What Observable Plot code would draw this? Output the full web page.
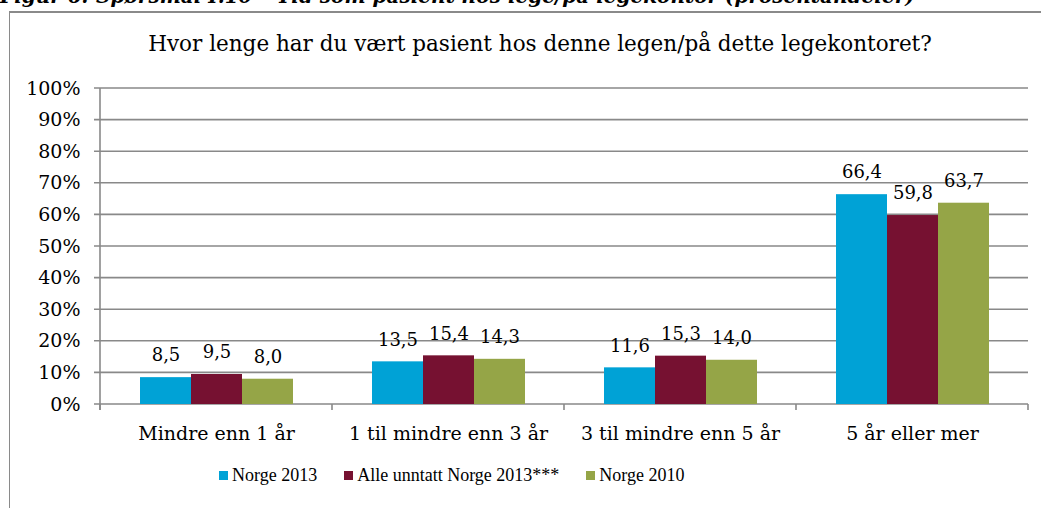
<!DOCTYPE html>
<html><head><meta charset="utf-8">
<script src="https://cdn.jsdelivr.net/npm/d3@7"></script>
<script src="https://cdn.jsdelivr.net/npm/@observablehq/plot@0.6"></script>
<style>
body{margin:0;background:#fff;}
#wrap{position:relative;width:1041px;height:508px;overflow:hidden;font-family:"DejaVu Serif",serif;color:#000;}
#cap{position:absolute;left:0;top:-16px;font:bold italic 20px "DejaVu Serif",serif;white-space:nowrap;}
#frame{position:absolute;left:9px;top:11px;width:1040px;height:600px;border-left:1.5px solid #8a8a8a;border-top:2px solid #8a8a8a;}
#title{position:absolute;left:0;width:1080px;top:31px;text-align:center;font-size:21.5px;white-space:nowrap;}
#chart{position:absolute;left:0;top:60px;}
#legend{position:absolute;top:465px;left:219px;display:flex;gap:27px;font:18px "Liberation Serif",serif;white-space:nowrap;}
#legend span.item{display:flex;align-items:center;}
#legend span.sw{display:inline-block;width:9px;height:9px;margin-right:4px;}
</style>
</head><body>
<div id="wrap">
  <div id="cap">Figur 6: Spørsmål I.10 – Tid som pasient hos lege/på legekontor (prosentandeler)</div>
  <div id="frame"></div>
  <div id="title">Hvor lenge har du vært pasient hos denne legen/på dette legekontoret?</div>
  <div id="chart"></div>
  <div id="legend"></div>
</div>
<script>
const categories = ["Mindre enn 1 år", "1 til mindre enn 3 år", "3 til mindre enn 5 år", "5 år eller mer"];
const series = ["Norge 2013", "Alle unntatt Norge 2013***", "Norge 2010"];
const colors = ["#00A2D6", "#761131", "#95A547"];
const norge2013 = [8.5, 13.5, 11.6, 66.4];
const alleUnntatt = [9.5, 15.4, 15.3, 59.8];
const norge2010 = [8.0, 14.3, 14.0, 63.7];
const yTicks = [0, 10, 20, 30, 40, 50, 60, 70, 80, 90, 100];

const seriesValues = [norge2013, alleUnntatt, norge2010];
const rows = categories.flatMap((c, i) => series.map((s, j) => ({category: c, series: s, value: seriesValues[j][i]})));
const fmt = v => v.toFixed(1).replace(".", ",");

const chart = Plot.plot({
  width: 1041, height: 400,
  marginTop: 28, marginBottom: 56, marginLeft: 100, marginRight: 13,
  style: {fontFamily: '"DejaVu Serif", serif', fontSize: "19px", color: "#000", background: "transparent"},
  facet: {data: rows, x: "category"},
  fx: {domain: categories, paddingInner: 0.338, paddingOuter: 0.169, label: null, tickSize: 0, tickPadding: 22, axis: "bottom"},
  x: {domain: series, axis: null, padding: 0},
  // the y axis is anchored on the first facet's left edge, so its padding reaches back to the frame
  y: {domain: [0, 100], ticks: yTicks, tickFormat: d => d + "%", tickSize: 0, tickPadding: 59, label: null},
  color: {domain: series, range: colors},
  marks: [
    Plot.barY(rows, {x: "series", y: "value", fill: "series"}),
    Plot.text(rows, {x: "series", y: "value", text: d => fmt(d.value), dy: -22, fontSize: 18, fill: "#000"})
  ]
});
document.getElementById("chart").appendChild(chart);

// axis lines, full-width gridlines and category boundary ticks from Plot's scales
const ys = chart.scale("y"), fxs = chart.scale("fx");
const yf = d3.scaleLinear(ys.domain, ys.range);
const band = d3.scaleBand(fxs.domain, fxs.range).paddingInner(fxs.paddingInner).paddingOuter(fxs.paddingOuter);
const [r0, r1] = fxs.range;
const g = d3.create("svg:g").attr("stroke", "#898989").attr("stroke-width", 1.6);
yTicks.forEach(t => {
  g.append("line").attr("x1", r0 - 6).attr("x2", r1).attr("y1", yf(t)).attr("y2", yf(t));
});
g.append("line").attr("x1", r0).attr("x2", r0).attr("y1", yf(100)).attr("y2", yf(0) + 6);
const bounds = categories.map(c => band(c) - band.step() * band.paddingInner() / 2).concat([r1]);
bounds.forEach(bx => {
  g.append("line").attr("x1", bx).attr("x2", bx).attr("y1", yf(0)).attr("y2", yf(0) + 6);
});
chart.insertBefore(g.node(), chart.firstChild.nextSibling);

const legend = d3.select("#legend");
series.forEach((s, i) => {
  const item = legend.append("span").attr("class", "item");
  item.append("span").attr("class", "sw").style("background", colors[i]);
  item.append("span").text(s);
});
</script>
</body></html>
